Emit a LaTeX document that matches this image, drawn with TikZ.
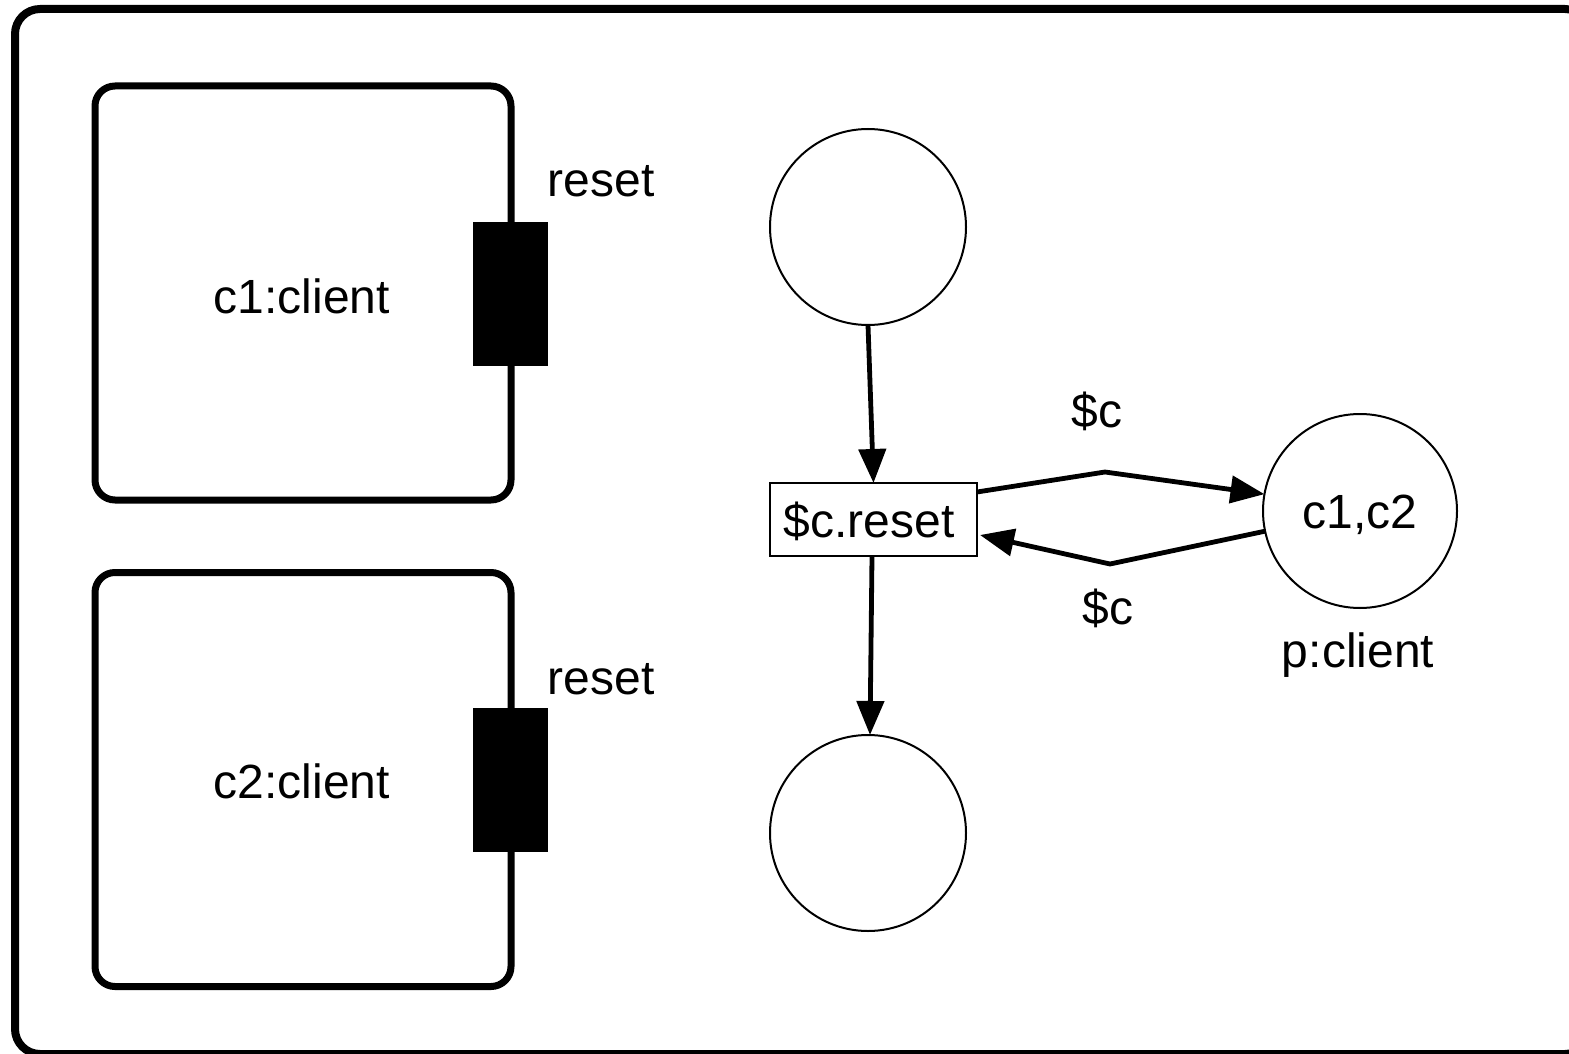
\documentclass[tikz,border=0pt]{standalone}
\usepackage{fontspec}
\setmainfont{Liberation Sans}
\usetikzlibrary{arrows.meta,calc}
\begin{document}
\begin{tikzpicture}[x=0.5pt,y=-0.5pt,
  every node/.style={font=\fontsize{24pt}{28pt}\selectfont, inner sep=0pt, outer sep=0pt},
  clientbox/.style={draw, line width=3.5pt, rounded corners=10pt, minimum width=208pt, minimum height=207pt},
  portbox/.style={draw, fill=black, line width=0.5pt, minimum width=37pt, minimum height=71.5pt},
  place/.style={draw, circle, line width=1pt},
  transbox/.style={draw, line width=1pt, minimum width=103.5pt, minimum height=36.5pt},
  arc/.style={line width=2.4pt, -{Triangle[length=17pt,width=13.5pt]}}
]
\useasboundingbox (0,0) rectangle (1569,1054);
\fill[white] (0,0) rectangle (1569,1054);
\draw[line width=4pt, rounded corners=12.5pt] (15,9) rectangle (1590,1054);

\node[clientbox] (c1) at (303,293) {};
\node (c1t) at (302,296) {c1:client};
\node[clientbox] (c2) at (303,779.5) {};
\node (c2t) at (302,781) {c2:client};
\node[portbox] (p1) at (510,293.5) {};
\node[portbox] (p2) at (510,779.5) {};
\node (r1) at (601,181) {reset};
\node (r2) at (601,679) {reset};

\node[place, minimum size=98pt] (top) at (868,227) {};
\node[place, minimum size=98pt] (bot) at (868,833) {};
\node[place, minimum size=97pt] (p) at (1360,511) {};
\node (pt) at (1360,515) {c1,c2};
\node (plab) at (1358,655) {p:client};
\node[transbox] (trans) at (873.5,519.5) {};
\node (transt) at (869,521) {\$c.reset};

\coordinate (s1) at ($(trans.north east)+(0,9)$);
\coordinate (k1) at (1105,472);
\coordinate (k2) at (1110,564);
\coordinate (e2) at ($(trans.south east)+(3,-21)$);
\coordinate (s3) at ($(trans.south)+(-1.5,0)$);
\coordinate (e3) at ($(bot.north)+(2,0)$);

\draw[arc] (top.south) -- (trans.north);
\draw[arc] (s3) -- (e3);
\draw[arc] (s1) -- (k1) -- (p.170);
\draw[arc] (p.192) -- (k2) -- (e2);

\node (l1) at (1097,411) {\$c};
\node (l2) at (1108,608) {\$c};
\end{tikzpicture}
\end{document}
